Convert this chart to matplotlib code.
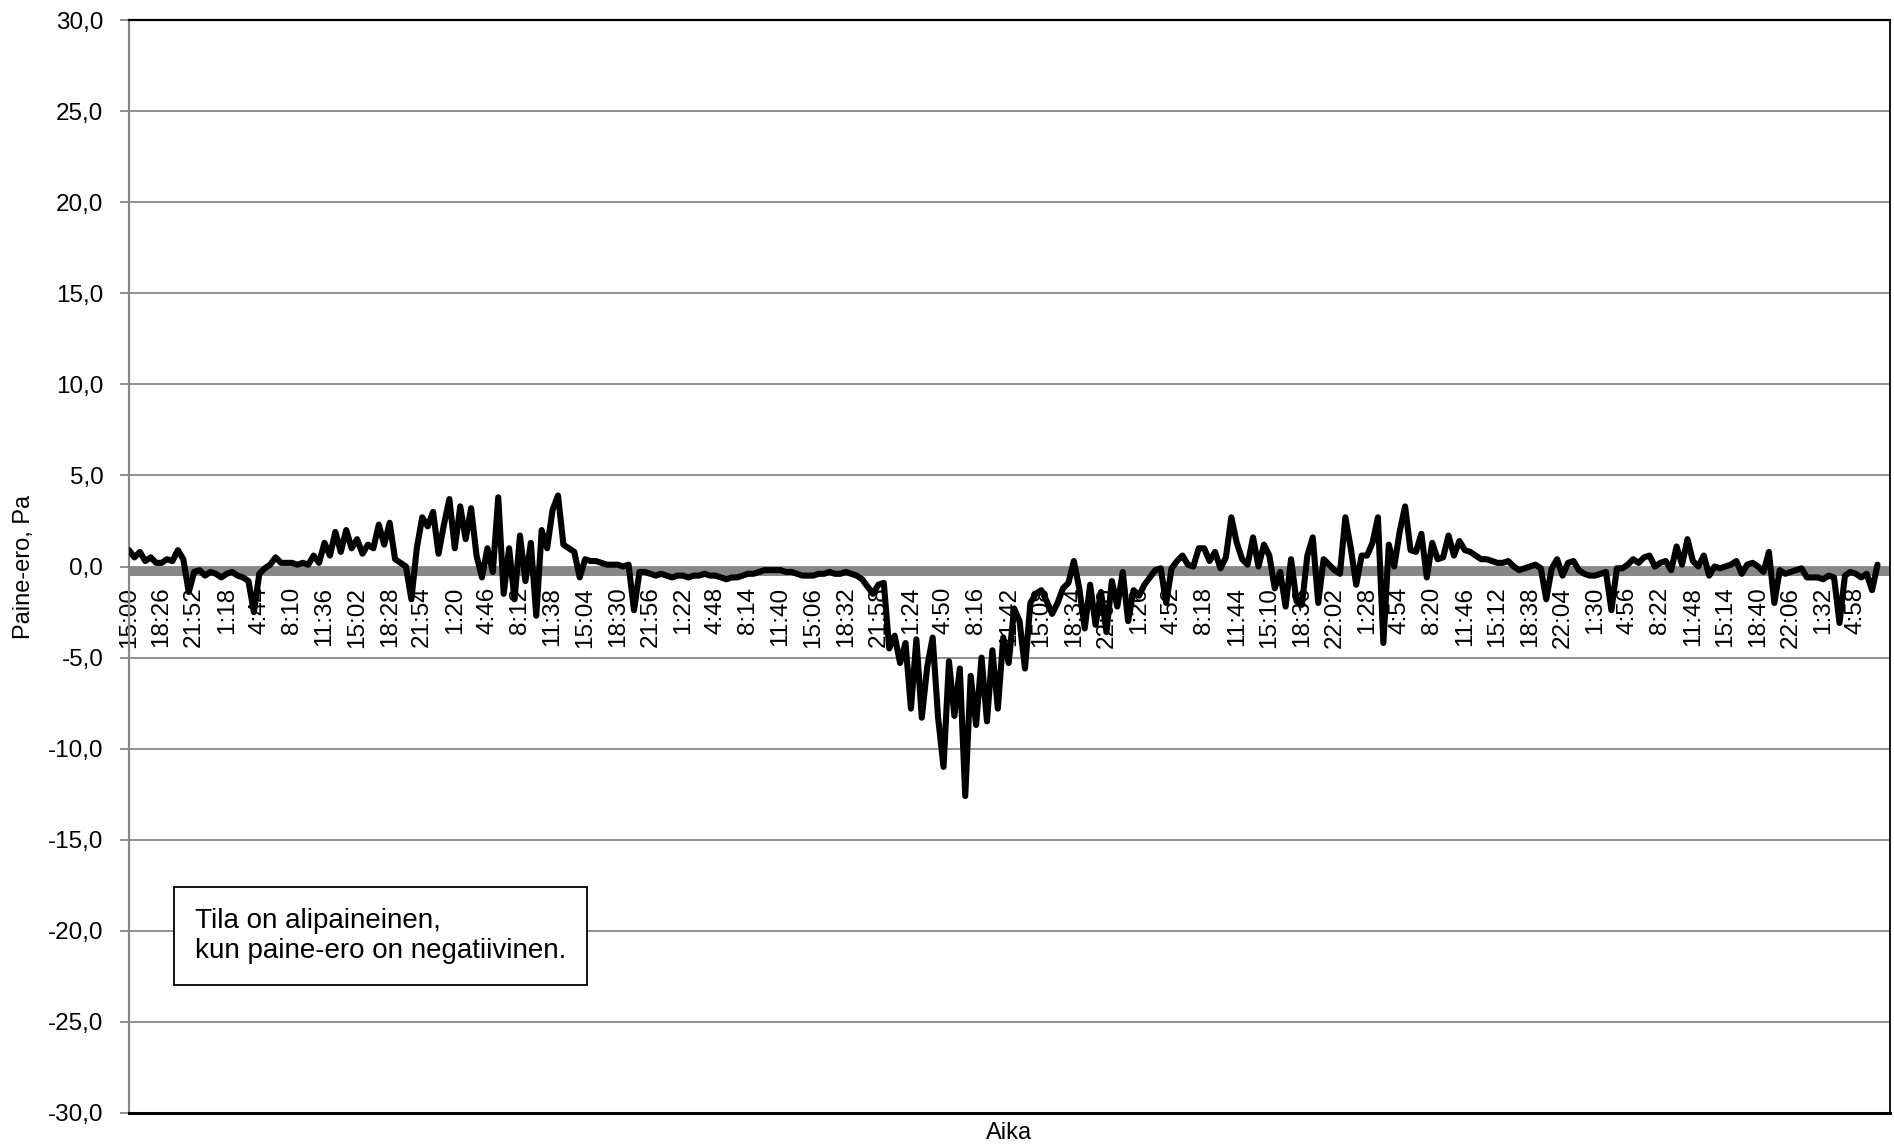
import matplotlib
matplotlib.use("Agg")
import matplotlib.pyplot as plt
from matplotlib.ticker import FuncFormatter, MultipleLocator

plt.rcParams['font.family'] = ['Liberation Sans', 'DejaVu Sans']

# Paine-ero (Pa), 6 readings per 3 h 26 min label interval
pressure = [
    0.9, 0.5, 0.8, 0.3, 0.5, 0.2,
    0.2, 0.4, 0.3, 0.9, 0.4, -1.4,
    -0.3, -0.2, -0.5, -0.3, -0.4, -0.6,
    -0.4, -0.3, -0.5, -0.6, -0.8, -2.5,
    -0.4, -0.1, 0.1, 0.5, 0.2, 0.2,
    0.2, 0.1, 0.2, 0.1, 0.6, 0.2,
    1.3, 0.6, 1.9, 0.8, 2.0, 1.0,
    1.5, 0.7, 1.2, 1.0, 2.3, 1.2,
    2.4, 0.4, 0.2, 0.0, -1.8, 1.0,
    2.7, 2.2, 3.0, 0.7, 2.3, 3.7,
    1.0, 3.3, 1.5, 3.2, 0.6, -0.6,
    1.0, -0.3, 3.8, -1.5, 1.0, -1.8,
    1.7, -0.8, 1.3, -2.7, 2.0, 1.0,
    3.1, 3.9, 1.2, 1.0, 0.8, -0.6,
    0.4, 0.3, 0.3, 0.2, 0.1, 0.1,
    0.1, 0.0, 0.1, -2.4, -0.3, -0.3,
    -0.4, -0.5, -0.4, -0.5, -0.6, -0.5,
    -0.5, -0.6, -0.5, -0.5, -0.4, -0.5,
    -0.5, -0.6, -0.7, -0.6, -0.6, -0.5,
    -0.4, -0.4, -0.3, -0.2, -0.2, -0.2,
    -0.2, -0.3, -0.3, -0.4, -0.5, -0.5,
    -0.5, -0.4, -0.4, -0.3, -0.4, -0.4,
    -0.3, -0.4, -0.5, -0.7, -1.1, -1.5,
    -1.0, -0.9, -4.5, -3.8, -5.3, -4.2,
    -7.8, -4.0, -8.3, -5.5, -3.9, -8.3,
    -11.0, -5.2, -8.2, -5.6, -12.6, -6.0,
    -8.7, -5.0, -8.5, -4.6, -7.8, -3.9,
    -5.3, -2.3, -3.0, -5.6, -2.0, -1.5,
    -1.3, -1.9, -2.6, -2.0, -1.2, -0.9,
    0.3, -1.2, -3.4, -1.0, -3.2, -1.4,
    -3.6, -0.8, -2.2, -0.3, -3.0, -1.3,
    -1.6, -1.0, -0.6, -0.2, -0.1, -2.0,
    -0.1, 0.3, 0.6, 0.1, 0.0, 1.0,
    1.0, 0.3, 0.8, -0.1, 0.5, 2.7,
    1.3, 0.4, 0.1, 1.6, 0.0, 1.2,
    0.6, -1.2, -0.3, -2.2, 0.4, -1.9,
    -2.1, 0.6, 1.6, -2.0, 0.4, 0.1,
    -0.2, -0.4, 2.7, 1.0, -1.0, 0.6,
    0.6, 1.3, 2.7, -4.2, 1.2, 0.0,
    1.9, 3.3, 0.9, 0.8, 1.8, -0.6,
    1.3, 0.4, 0.5, 1.7, 0.6, 1.4,
    0.9, 0.8, 0.6, 0.4, 0.4, 0.3,
    0.2, 0.2, 0.3, 0.0, -0.2, -0.1,
    0.0, 0.1, -0.1, -1.8, -0.1, 0.4,
    -0.5, 0.2, 0.3, -0.2, -0.4, -0.5,
    -0.5, -0.4, -0.3, -2.4, -0.1, -0.1,
    0.1, 0.4, 0.2, 0.5, 0.6, 0.0,
    0.2, 0.3, -0.2, 1.1, 0.1, 1.5,
    0.3, 0.0, 0.6, -0.5, 0.0, -0.1,
    0.0, 0.1, 0.3, -0.4, 0.1, 0.2,
    0.0, -0.3, 0.8, -2.0, -0.2, -0.4,
    -0.3, -0.2, -0.1, -0.6, -0.6, -0.6,
    -0.7, -0.5, -0.6, -3.1, -0.5, -0.3,
    -0.4, -0.6, -0.4, -1.3, 0.1,
]

time_labels = [
    "15:00", "18:26", "21:52", "1:18", "4:44", "8:10", "11:36", "15:02",
    "18:28", "21:54", "1:20", "4:46", "8:12", "11:38", "15:04", "18:30",
    "21:56", "1:22", "4:48", "8:14", "11:40", "15:06", "18:32", "21:58",
    "1:24", "4:50", "8:16", "11:42", "15:08", "18:34", "22:00", "1:26",
    "4:52", "8:18", "11:44", "15:10", "18:36", "22:02", "1:28", "4:54",
    "8:20", "11:46", "15:12", "18:38", "22:04", "1:30", "4:56", "8:22",
    "11:48", "15:14", "18:40", "22:06", "1:32", "4:58",
]
points_per_label = 6

x = list(range(len(pressure)))
tick_pos = [k * points_per_label for k in range(len(time_labels))]

fig = plt.figure(figsize=(18.94, 11.48), dpi=100)
ax = fig.add_axes([129 / 1894, 35 / 1148, 1761 / 1894, 1093 / 1148])

grid_gray = '#878787'

ax.set_ylim(-30, 30)
ax.set_xlim(0, 324.3)
ax.yaxis.set_major_locator(MultipleLocator(5))
ax.yaxis.set_major_formatter(FuncFormatter(lambda v, p: f"{v:.1f}".replace('.', ',')))
ax.grid(axis='y', color=grid_gray, lw=1.3, zorder=0)

# thick grey horizontal axis at zero
ax.axhspan(-0.5, 0, color='#888888', lw=0, zorder=1.5)

ax.plot(x, pressure, color='black', lw=4.4, solid_joinstyle='round',
        solid_capstyle='round', zorder=3)

ax.set_xticks(tick_pos)
ax.set_xticklabels(time_labels)
ax.spines['bottom'].set_position(('data', 0))
ax.spines['bottom'].set_visible(False)
ax.tick_params(axis='x', length=0, pad=14.5, labelsize=17.5, labelrotation=90)
for lbl in ax.get_xticklabels():
    lbl.set_verticalalignment('top')
    lbl.set_horizontalalignment('center')
ax.tick_params(axis='y', length=6.5, width=1.3, color=grid_gray, pad=12, labelsize=17.5)

ax.spines['left'].set_color(grid_gray)
ax.spines['left'].set_linewidth(1.6)
ax.spines['top'].set_color('black')
ax.spines['top'].set_linewidth(1.6)
ax.spines['right'].set_color('black')
ax.spines['right'].set_linewidth(1.3)
ax.axhline(-30, color='black', lw=2.2, zorder=4, clip_on=False)

ax.set_ylabel('Paine-ero, Pa', fontsize=17)
ax.yaxis.set_label_coords(-0.0535, 0.5)
ax.text(0.5, -0.0185, 'Aika', transform=ax.transAxes, ha='center', va='center',
        fontsize=17)

ax.text(195 / 1894, 1 - 936 / 1148,
        'Tila on alipaineinen,\nkun paine-ero on negatiivinen.',
        transform=fig.transFigure, ha='left', va='center', fontsize=20,
        linespacing=1.2,
        bbox=dict(boxstyle='square,pad=0.75', facecolor='white',
                  edgecolor='black', lw=1.3), zorder=5)

fig.savefig('out.png', dpi=100, facecolor='white')
